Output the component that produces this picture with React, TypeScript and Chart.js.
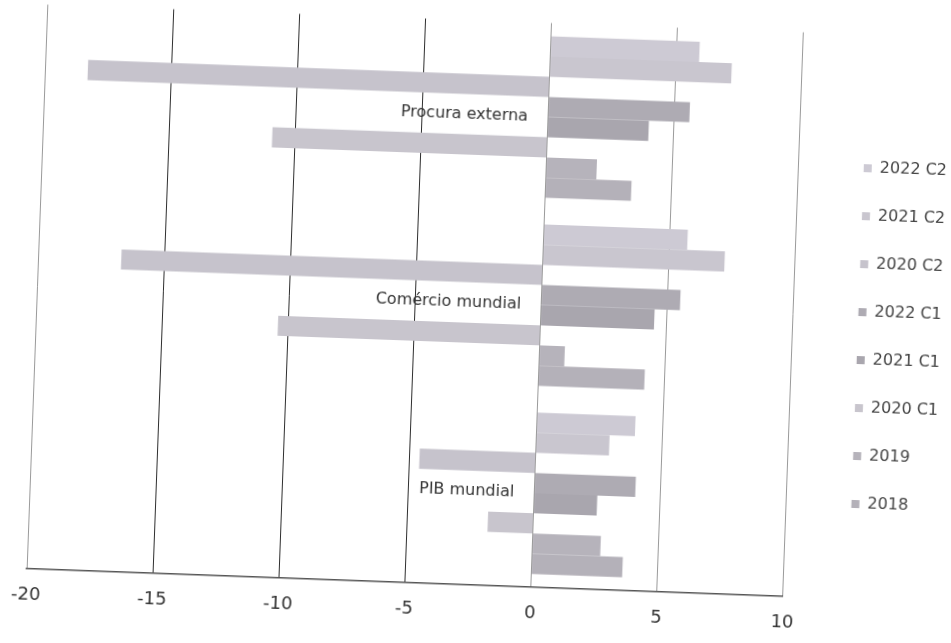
import { useEffect, useRef } from "react";
import { Chart, registerables } from "chart.js";

Chart.register(...registerables);

// ---- data ----
const categories = ["Procura externa", "Comércio mundial", "PIB mundial"];
const seriesNames = ["2022 C2", "2021 C2", "2020 C2", "2022 C1", "2021 C1", "2020 C1", "2019", "2018"];

const s2022C2 = [5.9, 5.7, 3.9];
const s2021C2 = [7.2, 7.2, 2.9];
const s2020C2 = [-18.3, -16.7, -4.6];
const s2022C1 = [5.6, 5.5, 4.0];
const s2021C1 = [4.0, 4.5, 2.5];
const s2020C1 = [-10.9, -10.4, -1.8];
const s2019 = [2.0, 1.0, 2.7];
const s2018 = [3.4, 4.2, 3.6];

const xMin = -20;
const xMax = 10;
const xStep = 5;

// ---- styles ----
const seriesColors = ["#cdcad4", "#c9c6cf", "#c6c3cc", "#aeabb3", "#a9a6ae", "#c8c5cd", "#b6b3bb", "#b4b1b9"];
const darkGridValues = [-15, -10, -5];

export default function App() {
  const ref = useRef<HTMLCanvasElement>(null);

  useEffect(() => {
    if (!ref.current) return;
    Chart.defaults.font.family = "'DejaVu Sans', sans-serif";
    const values = [s2022C2, s2021C2, s2020C2, s2022C1, s2021C1, s2020C1, s2019, s2018];
    const chart = new Chart(ref.current, {
      type: "bar",
      data: {
        labels: categories,
        datasets: values.map((d, i) => ({
          label: seriesNames[i],
          data: d,
          backgroundColor: seriesColors[i],
          borderWidth: 0,
          categoryPercentage: 0.858,
          barPercentage: 1,
        })),
      },
      options: {
        indexAxis: "y",
        animation: false,
        responsive: false,
        maintainAspectRatio: false,
        layout: { padding: { left: 36, top: 20.5, right: 0, bottom: 4.4 } },
        plugins: {
          legend: {
            position: "right",
            align: "start",
            title: { display: true, text: " ", font: { size: 10 }, padding: { top: 81.5, bottom: 0 } },
            labels: {
              boxWidth: 8,
              boxHeight: 8,
              padding: 32,
              color: "#444",
              font: { size: 16 },
            },
          },
          tooltip: { enabled: false },
        },
        scales: {
          x: {
            type: "linear",
            min: xMin,
            max: xMax,
            ticks: { stepSize: xStep, color: "#333", padding: 16, font: { size: 18 } },
            grid: {
              drawTicks: false,
              lineWidth: 1,
              color: (ctx: any) =>
                ctx.tick && darkGridValues.includes(ctx.tick.value) ? "#2e2e2e" : "#9a9a9a",
            },
            border: { display: true, color: "#555", width: 1.5 },
          },
          y: {
            type: "category",
            position: { x: -0.8 } as any,
            grid: { display: false },
            border: { display: false },
            ticks: { color: "#333", font: { size: 16 } },
          },
          yr: {
            type: "linear",
            position: "right",
            display: true,
            grid: { display: false },
            border: { display: false },
            ticks: { display: false },
            afterFit: (s: any) => {
              s.width = 33;
            },
          },
        },
      } as any,
    });
    return () => chart.destroy();
  }, []);

  return (
    <div style={{ position: "fixed", left: 0, top: 0, width: 951, height: 643, background: "#fff", overflow: "hidden" }}>
      <canvas
        ref={ref}
        width={951}
        height={643}
        style={{
          display: "block",
          width: 951,
          height: 643,
          transform: "rotate(2.1deg)",
          transformOrigin: "475.5px 321.5px",
        }}
      />
    </div>
  );
}
